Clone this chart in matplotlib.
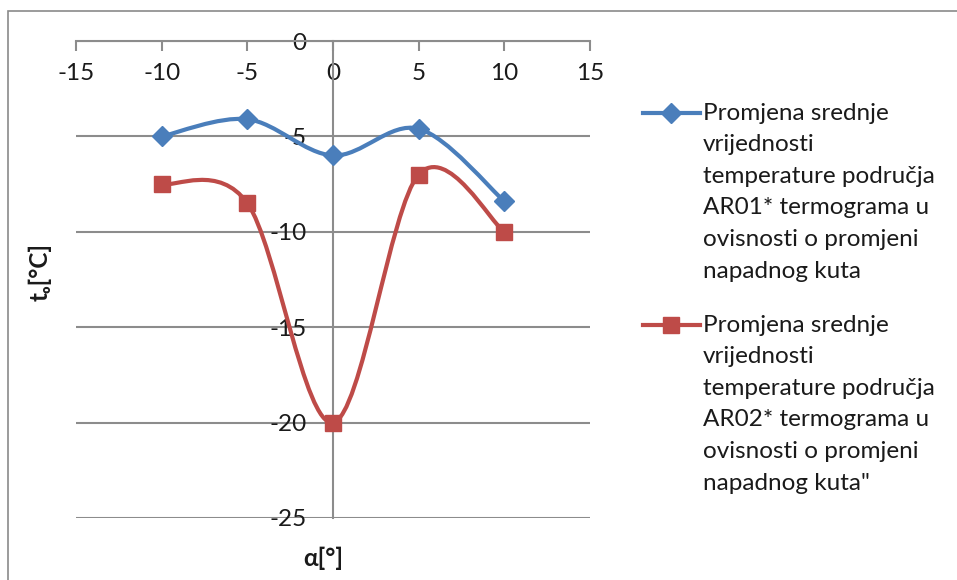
import numpy as np
import matplotlib
matplotlib.use("Agg")
import matplotlib.pyplot as plt
from matplotlib.path import Path
from matplotlib.patches import PathPatch, Rectangle
from matplotlib.lines import Line2D

plt.rcParams['font.family'] = ['Lato', 'DejaVu Sans']

# data
alpha = [-10, -5, 0, 5, 10]
ar01 = [-5.0, -4.1, -6.0, -4.6, -8.4]
ar02 = [-7.5, -8.5, -20.0, -7.0, -10.0]

xticks = [-15, -10, -5, 0, 5, 10, 15]
yticks = [0, -5, -10, -15, -20, -25]

labels = [
    ["Promjena srednje", "vrijednosti", "temperature područja",
     "AR01* termograma u", "ovisnosti o promjeni", "napadnog kuta"],
    ["Promjena srednje", "vrijednosti", "temperature područja",
     "AR02* termograma u", "ovisnosti o promjeni", "napadnog kuta\""],
]

blue = "#4a7ebb"
red = "#be4b48"
grey = "#8c8c8c"
txt = "#1a1a1a"
fs = 17.5


def smooth_path(x, y):
    # excel style smoothed line: cubic bezier through the points
    pts = np.column_stack([x, y]).astype(float)
    n = len(pts)
    verts = [pts[0]]
    codes = [Path.MOVETO]
    for i in range(n - 1):
        p0 = pts[max(i - 1, 0)]
        p1 = pts[i]
        p2 = pts[i + 1]
        p3 = pts[min(i + 2, n - 1)]
        c1 = p1 + (p2 - p0) / 6
        c2 = p2 - (p3 - p1) / 6
        verts += [c1, c2, p2]
        codes += [Path.CURVE4] * 3
    return Path(verts, codes)


fig = plt.figure(figsize=(9.57, 5.8), dpi=100)
fig.patch.set_facecolor("white")

# outer chart frame
fig.add_artist(Rectangle((8 / 957, -0.05), 1.0, 1 - 11 / 580 + 0.05,
                         transform=fig.transFigure, fill=False,
                         edgecolor="#8a8a8a", lw=1.2))

ax = fig.add_axes([76 / 957, 1 - 518 / 580, (590 - 76) / 957, (518 - 41) / 580])
ax.set_xlim(-15, 15)
ax.set_ylim(-25, 0)

for s in ["top", "right"]:
    ax.spines[s].set_visible(False)
ax.spines["bottom"].set_position(("data", 0))
ax.spines["left"].set_position(("data", 0))
for s in ["bottom", "left"]:
    ax.spines[s].set_color(grey)
    ax.spines[s].set_linewidth(1.5)
    ax.spines[s].set_zorder(1)

ax.set_xticks(xticks)
ax.set_yticks(yticks)
ax.set_xticklabels([str(v) for v in xticks])
ax.set_yticklabels([str(v) for v in yticks])
ax.tick_params(axis="x", direction="out", length=7, width=1.5, color=grey,
               pad=9, labelsize=fs, labelcolor=txt)
ax.tick_params(axis="y", length=0, pad=19, labelsize=fs, labelcolor=txt)
ax.yaxis.grid(True, color=grey, lw=1.5, zorder=0)
ax.set_axisbelow(True)

for ys, col, mk, ms in [(ar01, blue, "D", 10), (ar02, red, "s", 12)]:
    ax.add_patch(PathPatch(smooth_path(alpha, ys), fill=False, edgecolor=col,
                           lw=3, zorder=3, capstyle="round"))
    ax.plot(alpha, ys, linestyle="none", marker=mk, markersize=ms,
            color=col, zorder=4, clip_on=False)

fig.text(40 / 957, 1 - 272 / 580, "tₒ[°C]", rotation=90, ha="center",
         va="center", fontsize=fs, fontweight="bold", color=txt)
fig.text(323 / 957, 1 - 558 / 580, "α[°]", ha="center", va="center",
         fontsize=fs, fontweight="bold", color=txt)

# legend
for (col, mk, ms), y0, lines in zip([(blue, "D", 10), (red, "s", 12)],
                                   [113, 325], labels):
    fig.add_artist(Line2D([643 / 957, 700 / 957], [1 - y0 / 580] * 2,
                          transform=fig.transFigure, color=col, lw=3))
    fig.add_artist(Line2D([671 / 957], [1 - y0 / 580],
                          transform=fig.transFigure, color=col, marker=mk,
                          markersize=ms, linestyle="none"))
    for k, line in enumerate(lines):
        fig.text(703 / 957, 1 - (y0 + 31.6 * k) / 580, line, ha="left",
                 va="center", fontsize=fs, color=txt)

fig.savefig("out.png", dpi=100)
